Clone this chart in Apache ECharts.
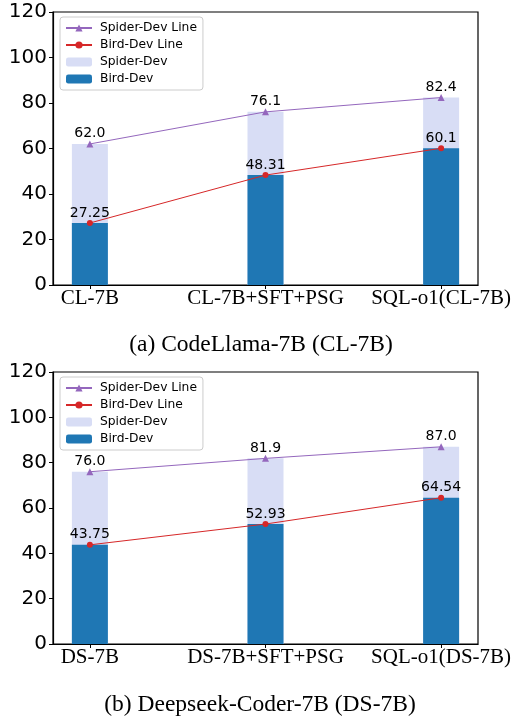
<!DOCTYPE html>
<html>
<head>
<meta charset="utf-8">
<script src="https://cdn.jsdelivr.net/npm/echarts@6/dist/echarts.min.js"></script>
<style>
html,body{margin:0;padding:0;background:#fff;}
#chart{width:517px;height:720px;}
</style>
</head>
<body>
<div id="chart"></div>
<script>
// ---- data ----
const categoriesA = ['CL-7B', 'CL-7B+SFT+PSG', 'SQL-o1(CL-7B)'];
const spiderA = [62.0, 76.1, 82.4];
const birdA = [27.25, 48.31, 60.1];
const categoriesB = ['DS-7B', 'DS-7B+SFT+PSG', 'SQL-o1(DS-7B)'];
const spiderB = [76.0, 81.9, 87.0];
const birdB = [43.75, 52.93, 64.54];
const yTicks = [0, 20, 40, 60, 80, 100, 120];
const captionA = '(a) CodeLlama-7B (CL-7B)';
const captionB = '(b) Deepseek-Coder-7B (DS-7B)';

const C_LIGHT = '#d8ddf5', C_DARK = '#1f77b4', C_PURPLE = '#9467bd', C_RED = '#d62728';
const SANS = 'DejaVu Sans', SERIF = 'Liberation Serif';

function pts(arr) { return arr.map((v, i) => [i, v]); }

const grids = [
  {left: 53, right: 39, top: 12, height: 273},
  {left: 53, right: 39, top: 372, height: 272}
];
const cats = [categoriesA, categoriesB];
const sp = [spiderA, spiderB];
const bd = [birdA, birdB];

const xAxes = [], yAxes = [], series = [], legends = [];
for (let g = 0; g < 2; g++) {
  const c = cats[g];
  const idx = c.map((_, i) => i);
  xAxes.push({
    type: 'value', gridIndex: g, min: -0.21, max: 2.21,
    axisLine: {show: true, onZero: false, lineStyle: {color: '#000', width: 1.2}},
    axisTick: {show: true, customValues: idx, length: 4, lineStyle: {color: '#000', width: 1}},
    axisLabel: {customValues: idx, formatter: v => c[Math.round(v)] || '',
      fontFamily: SERIF, fontSize: 21, color: '#000', margin: 3},
    splitLine: {show: false}
  });
  yAxes.push({
    type: 'value', gridIndex: g, min: 0, max: 120, interval: 20,
    axisLine: {show: true, onZero: false, lineStyle: {color: '#000', width: 1.2}},
    axisTick: {show: true, length: 4, lineStyle: {color: '#000'}},
    axisLabel: {fontFamily: SANS, fontSize: 20, color: '#000', margin: 6,
      formatter: v => yTicks.includes(v) ? String(v) : ''},
    splitLine: {show: false}
  });
  series.push({
    name: 'Spider-Dev', type: 'bar', xAxisIndex: g, yAxisIndex: g,
    data: pts(sp[g]), barWidth: 36, barGap: '-100%',
    itemStyle: {color: C_LIGHT}, z: 1
  });
  series.push({
    name: 'Bird-Dev', type: 'bar', xAxisIndex: g, yAxisIndex: g,
    data: pts(bd[g]), barWidth: 36, barGap: '-100%',
    itemStyle: {color: C_DARK}, z: 2
  });
  series.push({
    name: 'Spider-Dev Line', type: 'line', xAxisIndex: g, yAxisIndex: g,
    data: pts(sp[g]), symbol: 'triangle', symbolSize: 7,
    lineStyle: {color: C_PURPLE, width: 1}, itemStyle: {color: C_PURPLE},
    label: {show: true, position: 'top', distance: 0, fontFamily: SANS, fontSize: 14, color: '#000',
      formatter: p => p.value[1].toFixed(1)},
    z: 5
  });
  series.push({
    name: 'Bird-Dev Line', type: 'line', xAxisIndex: g, yAxisIndex: g,
    data: pts(bd[g]), symbol: 'circle', symbolSize: 6,
    lineStyle: {color: C_RED, width: 1}, itemStyle: {color: C_RED},
    label: {show: true, position: 'top', distance: 0, fontFamily: SANS, fontSize: 14, color: '#000',
      formatter: p => String(p.value[1])},
    z: 5
  });
  legends.push({
    orient: 'vertical', left: 60, top: grids[g].top + 5,
    data: ['Spider-Dev Line', 'Bird-Dev Line', 'Spider-Dev', 'Bird-Dev'],
    itemWidth: 26, itemHeight: 9, itemGap: 5,
    padding: [5, 6, 5, 5],
    borderColor: '#cccccc', borderWidth: 1, borderRadius: 3,
    backgroundColor: 'rgba(255,255,255,0.8)',
    textStyle: {fontFamily: SANS, fontSize: 12.3, color: '#000', padding: [0, 0, 0, 3]},
    selectedMode: false
  });
}

const chart = echarts.init(document.getElementById('chart'), null, {renderer: 'canvas'});
chart.setOption({
  animation: false,
  backgroundColor: '#fff',
  grid: grids.map(g => Object.assign({show: true, borderColor: '#000', borderWidth: 1.2, backgroundColor: 'transparent'}, g)),
  xAxis: xAxes,
  yAxis: yAxes,
  series: series,
  legend: legends,
  graphic: [
    {type: 'text', x: 261, y: 345, style: {text: captionA, textAlign: 'center', textVerticalAlign: 'middle',
      font: '23.5px "Liberation Serif"', fill: '#000'}},
    {type: 'text', x: 260, y: 705, style: {text: captionB, textAlign: 'center', textVerticalAlign: 'middle',
      font: '23.5px "Liberation Serif"', fill: '#000'}}
  ]
});
</script>
</body>
</html>
